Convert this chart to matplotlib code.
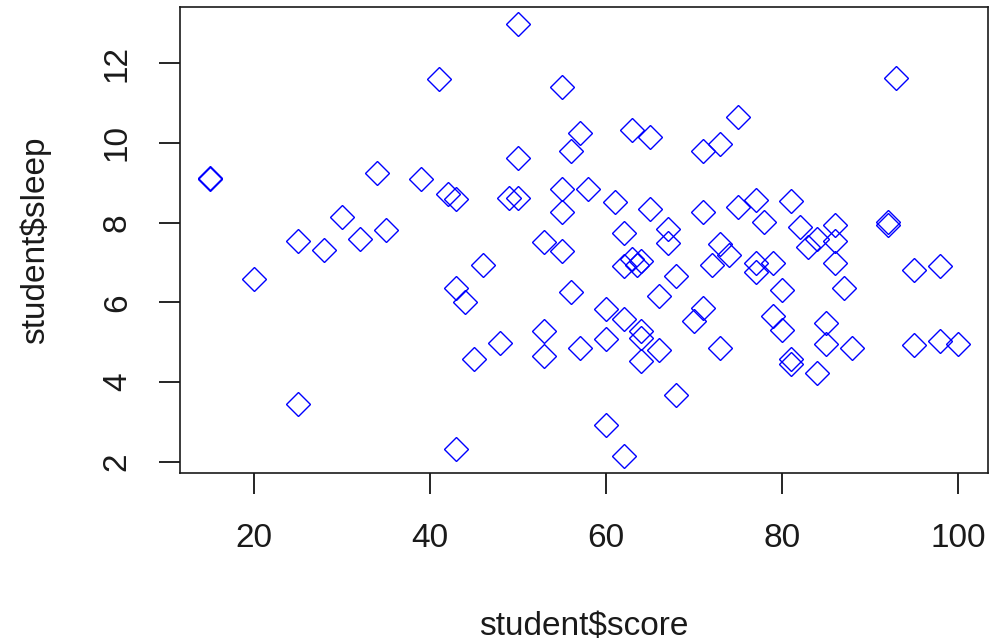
import matplotlib
matplotlib.use("Agg")
import matplotlib.pyplot as plt

# student scores vs. hours of sleep
score = [15, 15, 20, 25, 25, 28, 30, 32, 34, 35,
         39, 41, 42, 43, 43, 43, 44, 45, 46, 48,
         49, 50, 50, 50, 53, 53, 53, 55, 55, 55,
         55, 56, 56, 57, 57, 58, 60, 60, 60, 61,
         62, 62, 62, 62, 63, 63, 63.5, 64, 64, 64,
         64, 65, 65, 66, 66, 67, 67, 68, 68, 70,
         71, 71, 71, 72, 73, 73, 73, 74, 75, 75,
         77, 77, 77, 78, 79, 79, 80, 80, 81, 81,
         81, 82, 83, 84, 84, 85, 85, 86, 86, 86,
         87, 88, 92, 92, 93, 95, 95, 98, 98, 100]
sleep = [9.13, 9.10, 6.58, 7.55, 3.45, 7.32, 8.15, 7.60, 9.25, 7.82,
         9.10, 11.60, 8.72, 8.60, 6.36, 2.33, 6.00, 4.58, 6.95, 4.97,
         8.62, 8.62, 12.98, 9.63, 7.52, 5.27, 4.65, 11.40, 8.85, 8.28,
         7.28, 9.80, 6.26, 10.26, 4.85, 8.85, 5.83, 5.07, 2.93, 8.52,
         7.74, 6.90, 5.58, 2.15, 10.33, 7.10, 6.95, 7.05, 5.27, 5.10,
         4.52, 10.16, 8.35, 6.16, 4.80, 7.85, 7.50, 6.66, 3.68, 5.53,
         9.80, 8.28, 5.85, 6.93, 9.98, 7.47, 4.85, 7.20, 10.64, 8.40,
         8.58, 7.00, 6.76, 8.02, 7.00, 5.65, 6.32, 5.30, 8.55, 4.57,
         4.45, 7.88, 7.38, 7.60, 4.22, 5.48, 4.95, 7.95, 7.55, 6.98,
         6.36, 4.85, 8.02, 7.95, 11.62, 6.80, 4.92, 6.92, 5.02, 4.95]

x_ticks = [20, 40, 60, 80, 100]
y_ticks = [2, 4, 6, 8, 10, 12]

plt.rcParams["font.family"] = ["Liberation Sans", "DejaVu Sans"]

fig = plt.figure(figsize=(9.94, 6.43), dpi=100)
ax = fig.add_axes([180 / 994, 1 - 473 / 643, 808 / 994, 466 / 643])

ax.plot(score, sleep, linestyle="none", marker="D", markersize=12,
        markerfacecolor="none", markeredgecolor="blue", markeredgewidth=1.0)

# R style: 4% padding around the data range
pad_x = 0.04 * (max(score) - min(score))
pad_y = 0.04 * (max(sleep) - min(sleep))
ax.set_xlim(min(score) - pad_x, max(score) + pad_x)
ax.set_ylim(min(sleep) - pad_y, max(sleep) + pad_y)

ax.set_xticks(x_ticks)
ax.set_yticks(y_ticks)
ax.tick_params(axis="both", length=15, width=1.2, labelsize=24,
               color="black", labelcolor="#1a1a1a")
ax.tick_params(axis="x", pad=21)
ax.tick_params(axis="y", pad=19, labelrotation=90)
for lbl in ax.get_yticklabels():
    lbl.set_verticalalignment("center")

for side in ax.spines.values():
    side.set_linewidth(1.2)
    side.set_color("#1a1a1a")

ax.set_xlabel("student$score", fontsize=24, color="#1a1a1a")
ax.set_ylabel("student$sleep", fontsize=24, color="#1a1a1a")
ax.xaxis.set_label_coords(0.5, -0.297)
ax.yaxis.set_label_coords(-0.16, 0.5)

fig.savefig("out.png", dpi=100)
